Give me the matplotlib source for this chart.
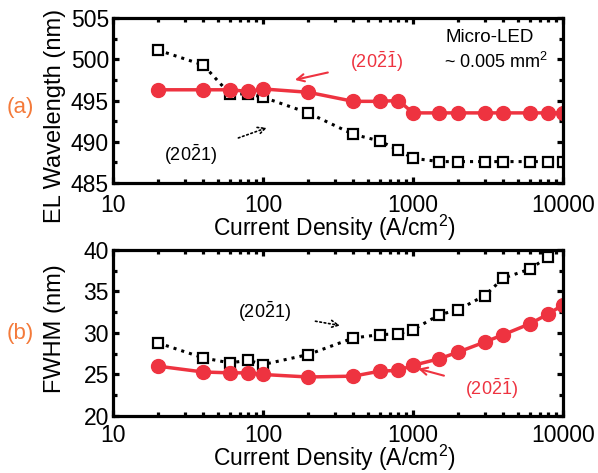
import numpy as np
import matplotlib.pyplot as plt

plt.rcParams['font.family'] = ['Liberation Sans', 'DejaVu Sans']
plt.rcParams['mathtext.fontset'] = 'custom'
plt.rcParams['mathtext.rm'] = 'Liberation Sans'
plt.rcParams['mathtext.it'] = 'Liberation Sans'

# Current density (A/cm^2)
current = [20, 40, 60, 80, 100, 200, 400, 600, 800, 1000,
           1500, 2000, 3000, 4000, 6000, 8000, 10000]

# (a) EL peak wavelength (nm)
wl_semipolar_m = [496.3, 496.3, 496.3, 496.1, 496.4, 496.0, 494.9, 494.9, 495.0, 493.5,
                  493.5, 493.5, 493.5, 493.5, 493.5, 493.5, 493.5]
wl_semipolar_p = [501.1, 499.3, 495.8, 495.8, 495.4, 493.5, 490.9, 490.1, 489.0, 488.0,
                  487.6, 487.6, 487.6, 487.6, 487.6, 487.6, 487.6]

# (b) FWHM (nm)
fwhm_semipolar_m = [26.0, 25.3, 25.2, 25.2, 25.0, 24.7, 24.8, 25.4, 25.5, 26.1,
                    26.9, 27.7, 28.9, 29.8, 31.1, 32.3, 33.4]
fwhm_semipolar_p = [28.8, 27.0, 26.4, 26.7, 26.2, 27.4, 29.4, 29.8, 29.9, 30.4,
                    32.2, 32.8, 34.5, 36.6, 37.7, 39.2, np.nan]

red = '#EE3340'
orange = '#F47A3A'
lbl_black = r'$\mathrm{(20\bar{2}1)}$'
lbl_red = r'$\mathrm{(20\bar{2}\bar{1})}$'

fig = plt.figure(figsize=(5.98, 4.73), dpi=100)
ax1 = fig.add_axes([0.189, 0.613, 0.7525, 0.349])
ax2 = fig.add_axes([0.189, 0.1205, 0.7525, 0.351])

for ax in (ax1, ax2):
    ax.set_xscale('log')
    ax.set_xlim(10, 10000)
    ax.set_xticks([10, 100, 1000, 10000])
    ax.set_xticklabels(['10', '100', '1000', '10000'])
    for s in ax.spines.values():
        s.set_linewidth(2.3)
    ax.tick_params(which='both', direction='in', top=True, right=True,
                   labelsize=16.5)
    ax.tick_params(axis='y', pad=3)
    ax.tick_params(which='major', length=4, width=2.3)
    ax.tick_params(which='minor', length=3, width=2.3)
    ax.set_xlabel('Current Density (A/cm$^2$)', fontsize=16.5)

ax1.tick_params(axis='x', pad=8)
ax2.tick_params(axis='x', pad=6)
ax1.xaxis.set_label_coords(0.492, -0.182)
ax2.xaxis.set_label_coords(0.492, -0.163)

# panel (a)
ax1.plot(current, wl_semipolar_p, ':', color='black', lw=2.2,
         marker='s', ms=7.5, mfc='white', mec='black', mew=1.6)
ax1.plot(current, wl_semipolar_m, '-', color=red, lw=2.5,
         marker='o', ms=10)
ax1.set_ylim(485, 505)
ax1.set_yticks([485, 490, 495, 500, 505])
ax1.set_yticks(np.arange(487.5, 505, 5), minor=True)
ax1.set_ylabel('EL Wavelength (nm)', fontsize=17)
ax1.yaxis.set_label_coords(-0.105, 0.406)

ax1.text(1634, 502.6, 'Micro-LED', fontsize=13.5, ha='left', va='center')
ax1.text(1600, 499.7, '~ 0.005 mm$^2$', fontsize=13, ha='left', va='center')
ax1.annotate(lbl_red, xy=(163, 497.5), xytext=(567, 499.7), color=red, fontsize=13,
             ha='center', va='center',
             arrowprops=dict(arrowstyle='->', color=red, lw=1.5, shrinkA=14, shrinkB=0))
ax1.annotate(lbl_black, xy=(106, 491.7), xytext=(33, 488.4), fontsize=13,
             ha='center', va='center',
             arrowprops=dict(arrowstyle='->', color='black', lw=1.2, ls=':',
                             shrinkA=14, shrinkB=0))
fig.text(20 / 598, 1 - 108 / 473, '(a)', color=orange, fontsize=16,
         ha='center', va='center')

# panel (b)
ax2.plot(current, fwhm_semipolar_p, ':', color='black', lw=2.2,
         marker='s', ms=7.5, mfc='white', mec='black', mew=1.6)
ax2.plot(current, fwhm_semipolar_m, '-', color=red, lw=2.5,
         marker='o', ms=10)
ax2.set_ylim(20, 40)
ax2.set_yticks([20, 25, 30, 35, 40])
ax2.set_yticks(np.arange(22.5, 40, 5), minor=True)
ax2.set_ylabel('FWHM (nm)', fontsize=17)
ax2.yaxis.set_label_coords(-0.105, 0.524)

ax2.annotate(lbl_black, xy=(326, 30.9), xytext=(102, 32.5), fontsize=13,
             ha='center', va='center',
             arrowprops=dict(arrowstyle='->', color='black', lw=1.2, ls=':',
                             shrinkA=16, shrinkB=0))
ax2.annotate(lbl_red, xy=(1080, 25.7), xytext=(3360, 23.3), color=red, fontsize=13,
             ha='center', va='center',
             arrowprops=dict(arrowstyle='->', color=red, lw=1.5, shrinkA=14, shrinkB=0))
fig.text(20 / 598, 1 - 334 / 473, '(b)', color=orange, fontsize=16,
         ha='center', va='center')

plt.savefig('out.png', dpi=100)
